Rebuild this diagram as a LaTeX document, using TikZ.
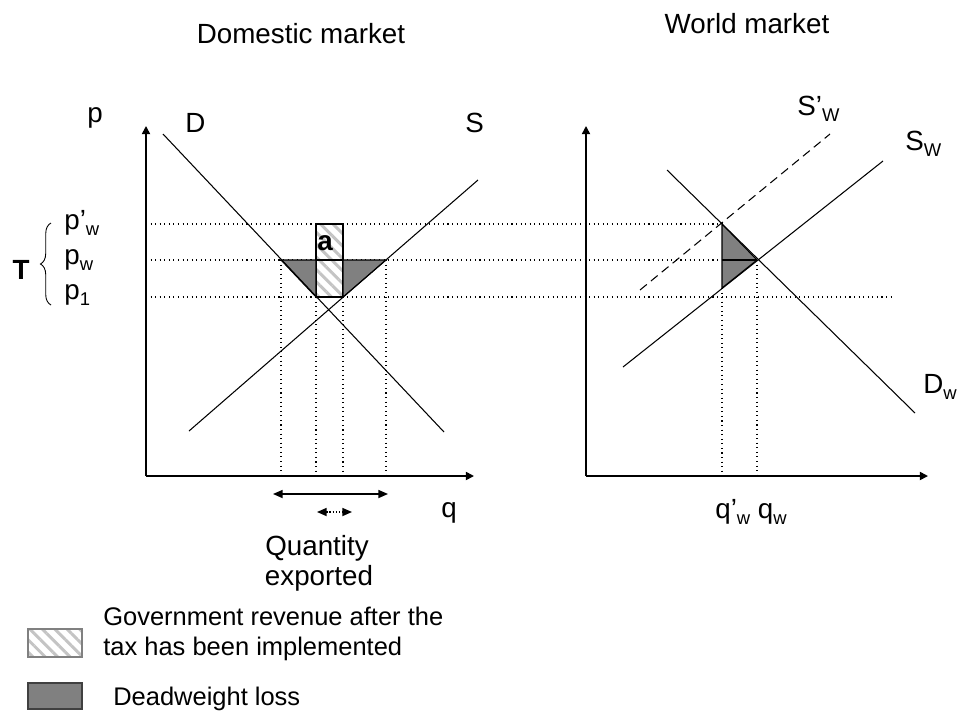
\documentclass[tikz,border=0pt]{standalone}
\usepackage{fontspec}
\setmainfont{Liberation Sans}
\usetikzlibrary{arrows.meta,patterns.meta,decorations.pathreplacing}

\newcommand{\lowtext}[1]{\raisebox{-0.45ex}{\fontsize{10.5}{12}\selectfont #1}}
\definecolor{lossgray}{HTML}{808080}
\definecolor{hatchgray}{HTML}{C4C4C4}

\begin{document}
\begin{tikzpicture}[x=0.02cm, y=-0.02cm,
    every node/.style={inner sep=0pt, anchor=base west, font=\fontsize{15.8}{18}\selectfont},
    curve/.style={line width=0.6pt},
    axis/.style={line width=0.9pt, -{Triangle[length=4.6pt,width=4.6pt]}},
    guide/.style={line width=0.6pt, dotted},
    loss/.style={fill=lossgray, draw=black, line width=0.6pt},
    revenue/.style={pattern={Lines[angle=-45,distance=5pt,line width=1.7pt]}, pattern color=hatchgray},
    twoway/.style={line width=0.8pt, {Triangle[length=5.5pt,width=4.6pt]}-{Triangle[length=5.5pt,width=4.6pt]}},
    legendtext/.style={font=\fontsize{14.5}{16}\selectfont}]
  \useasboundingbox (0,0) rectangle (957,711);

  % titles
  \node[anchor=base] (domtitle) at (301,43) {Domestic market};
  \node[anchor=base] (wldtitle) at (747,33) {World market};

  % price levels, shared by both markets
  \draw[guide] (146,224) -- (722,224);
  \draw[guide] (146,260) -- (757,260);
  \draw[guide] (146,297) -- (893,297);

  % domestic market
  \foreach \x/\y in {281/260, 316/297, 343/297, 386/260}
    \draw[guide] (\x,\y) -- (\x,476);
  \draw[revenue, draw=black, curve] (316,224) rectangle (343,297);
  \draw[loss] (281,260) -- (316,260) -- (316,297) -- cycle;
  \draw[loss] (343,260) -- (386,260) -- (343,297) -- cycle;
  \draw[curve] (316,260) -- (343,260);
  \draw[curve] (163,134) -- (444,432);
  \draw[curve] (189,431) -- (478,180);
  \draw[axis] (146,476) -- (146,126);
  \draw[axis] (146,476) -- (474,476);

  \node[font=\bfseries\fontsize{15.8}{18}\selectfont] (alabel) at (317,250) {a};
  \node (plabel) at (87,122) {p};
  \node (dlabel) at (185,132) {D};
  \node (slabel) at (465,132) {S};
  \node (qlabel) at (441,517) {q};

  \node (pwtax) at (64,229) {p’\lowtext{w}};
  \node (pw) at (64,264) {p\lowtext{w}};
  \node (pone) at (64,299) {p\lowtext{1}};
  \node[anchor=center, font=\bfseries\fontsize{15.8}{18}\selectfont] (tlabel) at (21,270) {T};
  \draw[line width=0.5pt, decorate, decoration={brace, amplitude=6pt}] (51,305) -- (51,223);

  \coordinate (exportl) at (273,494);
  \coordinate (exportr) at (388,494);
  \draw[twoway] (exportl) -- (exportr);
  \draw[twoway, densely dotted] (317,512) -- (352,512);
  \node[anchor=base] (qtylabel) at (317,555) {Quantity};
  \node[anchor=base] (explabel) at (319,585) {exported};

  % world market
  \draw[guide] (722,288) -- (722,476);
  \draw[guide] (757,260) -- (757,476);
  \draw[loss] (722,224) -- (757,260) -- (722,288) -- cycle;
  \draw[curve] (722,260) -- (757,260);
  \draw[curve, dash pattern=on 5pt off 3pt] (640,290) -- (830,134);
  \draw[curve] (623,367) -- (883,161);
  \draw[curve] (667,170) -- (915,413);
  \draw[axis] (586,476) -- (586,126);
  \draw[axis] (586,476) -- (928,476);

  \node (swtax) at (797,115) {S’\lowtext{W}};
  \node (sw) at (905,150) {S\lowtext{W}};
  \node (dw) at (923,393) {D\lowtext{w}};
  \node (qwlabel) at (715,518) {q’\lowtext{w} q\lowtext{w}};

  % legend
  \draw[revenue, draw=gray, line width=0.6pt] (28,629) rectangle (82,657);
  \draw[fill=lossgray, draw=darkgray, line width=0.6pt] (28,683) rectangle (82,709);
  \node[legendtext] (revtext) at (103,625) {Government revenue after the};
  \node[legendtext] (revtext2) at (103,655) {tax has been implemented};
  \node[legendtext] (losstext) at (113,705) {Deadweight loss};
\end{tikzpicture}
\end{document}
